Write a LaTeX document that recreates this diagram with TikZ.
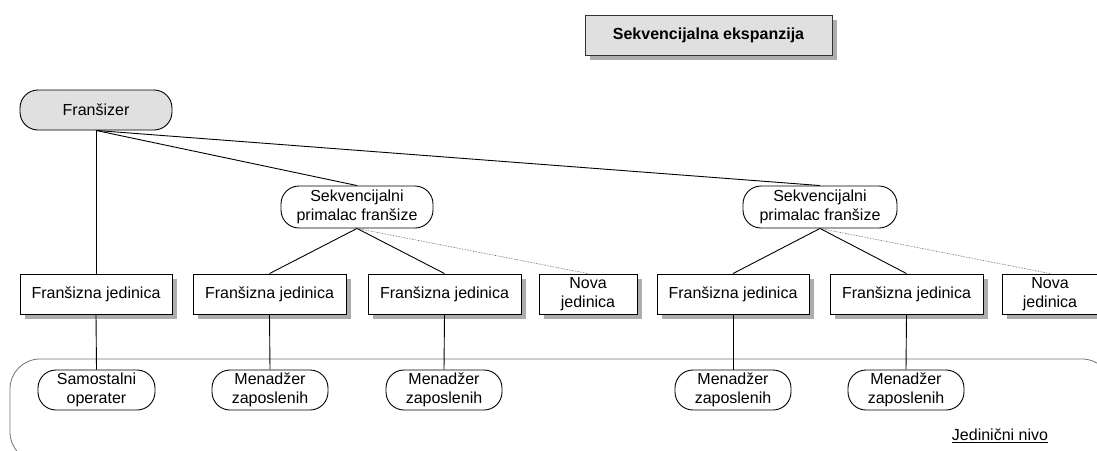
\documentclass[tikz,border=0pt]{standalone}
\usepackage{fontspec}
\setmainfont{Liberation Sans}
\begin{document}
\begin{tikzpicture}[x=1pt,y=-1pt,
  every node/.style={font=\fontsize{16}{19}\selectfont, align=center, inner sep=0pt},
  link/.style={draw=black, line width=0.9pt},
  newlink/.style={draw=black!70, line width=0.6pt, densely dotted},
  unitbox/.style={draw=black, line width=0.9pt, fill=white, minimum height=40pt},
  pill/.style={draw=black, line width=0.9pt, fill=white, rounded corners=18pt},
  headbox/.style={draw=black!80, line width=0.9pt, fill=black!12, font=\bfseries\fontsize{16}{19}\selectfont},
  boxshadow/.style={fill=black!32, draw=none}
]
% a box with its shadow: name, style, centre x, centre y, width, text
\newcommand\shadowbox[6]{%
  \fill[boxshadow] ({#3-#5/2+5},{#4-15}) rectangle ({#3+#5/2+5},{#4+25});
  \node[#2, minimum width=#5pt] (#1) at (#3,#4) {#6};
}
\useasboundingbox (0,0) rectangle (1097,450);

% level frame
\draw[black!55, line width=0.8pt, rounded corners=30pt] (10,359) -- (10,462) -- (1112,462) -- (1112,359) -- cycle;
\node (level) at (1000,436) {\underline{Jedinični nivo}};

% heading
\shadowbox{head}{headbox, minimum height=40pt}{708.5}{35}{247}{Sekvencijalna ekspanzija}

% franchisor
\node[pill, fill=black!12, minimum width=152pt, minimum height=40pt] (fr) at (96,110) {Franšizer};

% sequential franchisees
\node[pill, minimum width=152pt, minimum height=42pt] (sek1) at (357,207) {Sekvencijalni\\primalac franšize};
\node[pill, minimum width=154pt, minimum height=42pt] (sek2) at (820,207) {Sekvencijalni\\primalac franšize};

% units
\shadowbox{j1}{unitbox}{96}{294}{152}{Franšizna jedinica}
\shadowbox{j2}{unitbox}{269.5}{294}{153}{Franšizna jedinica}
\shadowbox{j3}{unitbox}{444.5}{294}{153}{Franšizna jedinica}
\shadowbox{n1}{unitbox}{588}{294}{98}{Nova\\jedinica}
\shadowbox{j4}{unitbox}{733}{294}{152}{Franšizna jedinica}
\shadowbox{j5}{unitbox}{906.5}{294}{153}{Franšizna jedinica}
\shadowbox{n2}{unitbox}{1050}{294}{96}{Nova\\jedinica}

% operators and managers
\node[pill, minimum width=117pt, minimum height=40pt] (m0) at (96.5,390) {Samostalni\\operater};
\node[pill, minimum width=116pt, minimum height=40pt] (m1) at (270,390) {Menadžer\\zaposlenih};
\node[pill, minimum width=116pt, minimum height=40pt] (m2) at (444,390) {Menadžer\\zaposlenih};
\node[pill, minimum width=116pt, minimum height=40pt] (m3) at (733,390) {Menadžer\\zaposlenih};
\node[pill, minimum width=116pt, minimum height=40pt] (m4) at (906,390) {Menadžer\\zaposlenih};

% connectors
\draw[link] (fr.south) -- (j1.north);
\draw[link] (fr.south) -- (sek1.north);
\draw[link] (fr.south) -- (sek2.north);
\draw[link] (sek1.south) -- (j2.north);
\draw[link] (sek1.south) -- (j3.north);
\draw[newlink] (sek1.south) -- (n1.north);
\draw[link] (sek2.south) -- (j4.north);
\draw[link] (sek2.south) -- (j5.north);
\draw[newlink] (sek2.south) -- (n2.north);
\draw[link] (j1.south) -- (m0.north);
\draw[link] (j2.south) -- (m1.north);
\draw[link] (j3.south) -- (m2.north);
\draw[link] (j4.south) -- (m3.north);
\draw[link] (j5.south) -- (m4.north);
\end{tikzpicture}
\end{document}
